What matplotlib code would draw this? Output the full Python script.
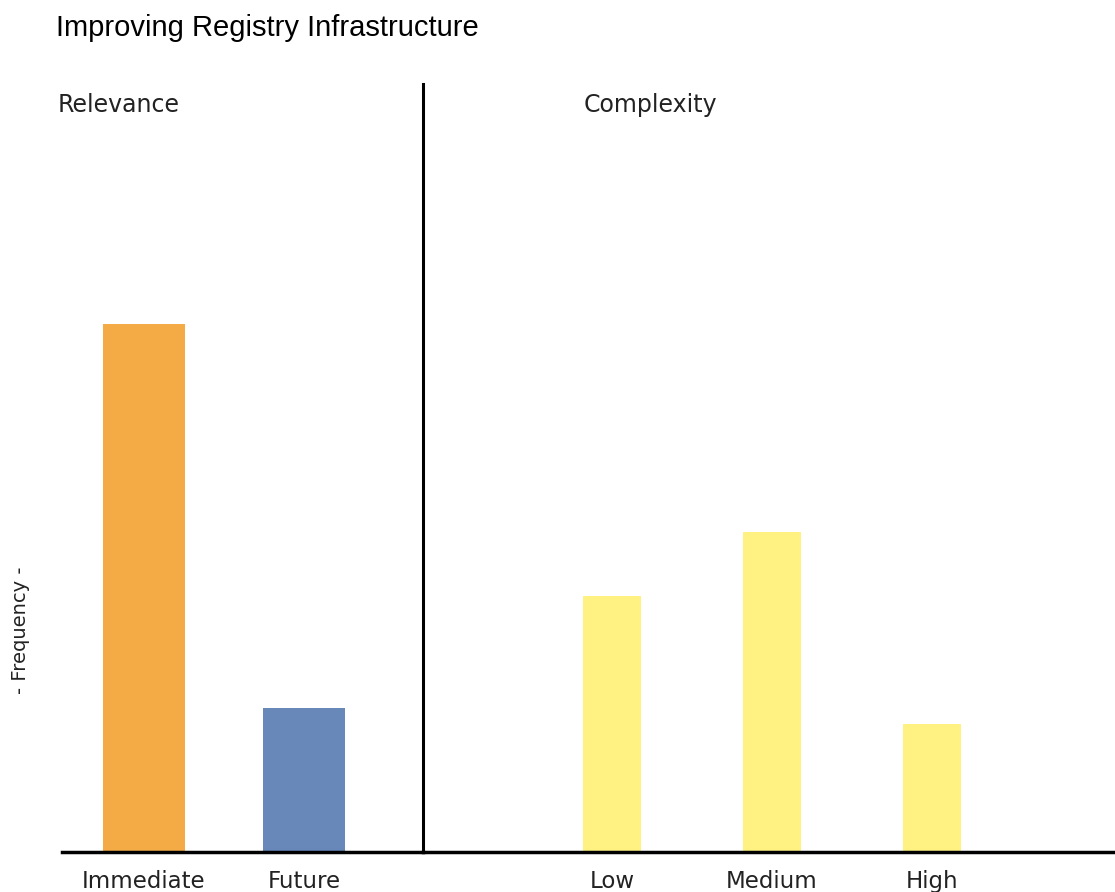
import matplotlib
matplotlib.use("Agg")
import matplotlib.pyplot as plt

plt.rcParams['font.family'] = ['DejaVu Sans']

title = "Improving Registry Infrastructure"
ylabel = "- Frequency -"
rel_title = "Relevance"
rel_cats = ["Immediate", "Future"]
rel_vals = [33, 9]
rel_colors = ["#F4AB45", "#6888BA"]
cmp_title = "Complexity"
cmp_cats = ["Low", "Medium", "High"]
cmp_vals = [16, 20, 8]
cmp_color = "#FFF282"

W, H = 1115, 892
fig = plt.figure(figsize=(W / 100, H / 100), dpi=100)

y0, y1 = 852, 84
left_x0, div_x, right_x1 = 62, 423, 1115
slot = 160.0

axR = fig.add_axes([div_x / W, 1 - y0 / H, (right_x1 - div_x) / W, (y0 - y1) / H])
axL = fig.add_axes([left_x0 / W, 1 - y0 / H, (div_x - left_x0) / W, (y0 - y1) / H])
axL.patch.set_visible(False)
axR.patch.set_visible(False)

ymax = 48
posL = list(range(len(rel_cats)))
axL.bar(posL, rel_vals, width=82 / slot, color=rel_colors)
axL.set_xlim((left_x0 - 144) / slot, (div_x - 144) / slot)
posR = list(range(len(cmp_cats)))
axR.bar(posR, cmp_vals, width=58 / slot, color=cmp_color)
axR.set_xlim((div_x - 612) / slot, (right_x1 - 612) / slot)

for ax, pos, cats in ((axL, posL, rel_cats), (axR, posR, cmp_cats)):
    ax.set_ylim(0, ymax)
    ax.set_yticks([])
    ax.set_xticks(pos)
    ax.set_xticklabels(cats, fontsize=16.5, color="#222222")
    ax.tick_params(axis='x', length=0, pad=13)
    for s in ("top", "left", "right"):
        ax.spines[s].set_visible(False)
    ax.spines["bottom"].set_linewidth(2.5)
    ax.spines["bottom"].set_color("black")

axL.spines["right"].set_visible(True)
axL.spines["right"].set_linewidth(2.2)
axL.spines["right"].set_color("black")

fig.text(58 / W, 1 - 105 / H, rel_title, fontsize=17,
         color="#222222", va="center", ha="left")
fig.text(584 / W, 1 - 105 / H, cmp_title, fontsize=17,
         color="#222222", va="center", ha="left")
fig.text(56 / W, 1 - 28 / H, title, fontsize=21, color="black", va="center", ha="left",
         family="Liberation Sans")
fig.text(21 / W, 1 - 630 / H, ylabel, fontsize=14, color="#222222", rotation=90,
         va="center", ha="center")

fig.savefig("out.png", dpi=100)
